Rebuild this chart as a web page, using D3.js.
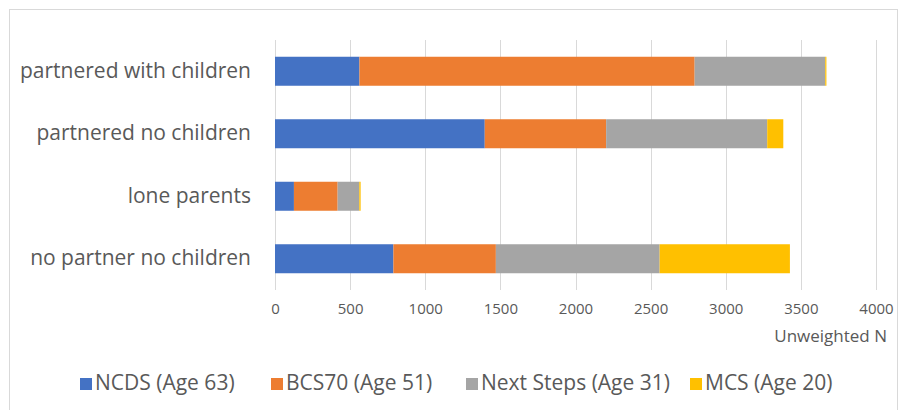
<!DOCTYPE html>
<html>
<head>
<meta charset="utf-8">
<script src="https://cdn.jsdelivr.net/npm/d3@7"></script>
<style>
  body { margin: 0; background: #fff; }
  text { font-family: "Open Sans", "Liberation Sans", sans-serif; fill: #595959; }
</style>
</head>
<body>
<svg id="chart" width="905" height="410"></svg>
<script>
// Household types, top to bottom
const categories = ["partnered with children", "partnered no children", "lone parents", "no partner no children"];
// Cohort series (unweighted counts per household type)
const seriesNames = ["NCDS (Age 63)", "BCS70 (Age 51)", "Next Steps (Age 31)", "MCS (Age 20)"];
const ncds      = [562, 1396, 126, 788];
const bcs70     = [2231, 808, 291, 682];
const nextSteps = [869, 1072, 144, 1090];
const mcs       = [8, 107, 9, 867];
const xTicks = [0, 500, 1000, 1500, 2000, 2500, 3000, 3500, 4000];
const colors = ["#4472C4", "#ED7D31", "#A5A5A5", "#FFC000"];

const rows = categories.map((c, i) => ({
  cat: c, s0: ncds[i], s1: bcs70[i], s2: nextSteps[i], s3: mcs[i]
}));
const keys = ["s0", "s1", "s2", "s3"];
const stacked = d3.stack().keys(keys)(rows);

const svg = d3.select("#chart");
const fontStack = "'Open Sans', 'Liberation Sans', sans-serif";

// chart frame
svg.append("rect")
  .attr("x", 9.5).attr("y", 9.5).attr("width", 888).attr("height", 420)
  .attr("fill", "none").attr("stroke", "#d9d9d9").attr("stroke-width", 1);

const x = d3.scaleLinear().domain([0, 4000]).range([275, 876]);
const y = d3.scaleBand().domain(categories).range([40, 290]).paddingInner(0.536).paddingOuter(0.268);

// vertical gridlines
svg.append("g").selectAll("line").data(xTicks).join("line")
  .attr("x1", d => Math.round(x(d)) + 0.5).attr("x2", d => Math.round(x(d)) + 0.5)
  .attr("y1", 40).attr("y2", 290)
  .attr("stroke", "#d9d9d9").attr("stroke-width", 1);

// stacked bars
svg.append("g").selectAll("g").data(stacked).join("g")
  .attr("fill", (d, i) => colors[i])
  .selectAll("rect").data(d => d).join("rect")
  .attr("x", d => x(d[0]))
  .attr("width", d => x(d[1]) - x(d[0]))
  .attr("y", d => y(d.data.cat))
  .attr("height", y.bandwidth());

// x tick labels
const xAxis = d3.axisBottom(x).tickValues(xTicks).tickFormat(d3.format("d")).tickSize(0).tickPadding(0);
const gx = svg.append("g").attr("transform", "translate(0,314)").call(xAxis);
gx.select(".domain").remove();
gx.selectAll("text")
  .style("font-family", fontStack)
  .style("font-size", "15px").attr("fill", "#595959").attr("dy", "0");

// axis title
svg.append("text").attr("x", 887).attr("y", 342).attr("text-anchor", "end")
  .style("font-size", "17px").text("Unweighted N");

// category labels
const yAxis = d3.axisLeft(y).tickSize(0).tickPadding(0);
const gy = svg.append("g").attr("transform", "translate(251,0)").call(yAxis);
gy.select(".domain").remove();
gy.selectAll("text")
  .style("font-family", fontStack)
  .style("font-size", "21px").attr("fill", "#595959");

// legend
const legendX = [80, 271, 466, 690];
const lg = svg.append("g").selectAll("g").data(seriesNames).join("g")
  .attr("transform", (d, i) => `translate(${legendX[i]},390)`);
lg.append("rect").attr("x", 0).attr("y", -12).attr("width", 12).attr("height", 12)
  .attr("fill", (d, i) => colors[i]);
lg.append("text").attr("x", 15).attr("y", 0)
  .style("font-size", "21px").text(d => d);
</script>
</body>
</html>
